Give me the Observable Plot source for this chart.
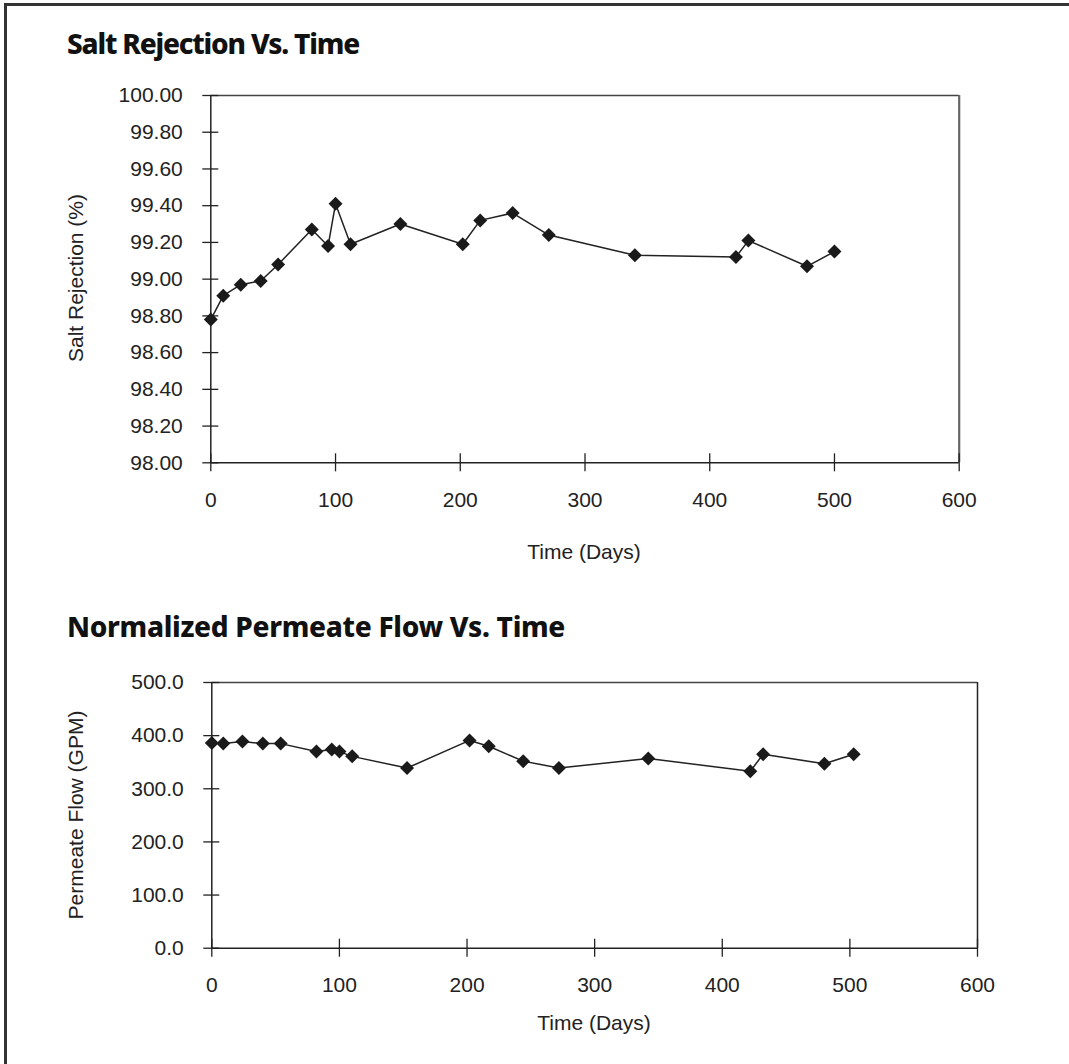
<!DOCTYPE html>
<html>
<head>
<meta charset="utf-8">
<script src="https://cdn.jsdelivr.net/npm/d3@7"></script>
<script src="https://cdn.jsdelivr.net/npm/@observablehq/plot@0.6"></script>
<style>
  html, body { margin: 0; padding: 0; background: #fff; }
  #page { position: relative; width: 1069px; height: 1064px; overflow: hidden; background: #fff; }
  #border { position: absolute; left: 4px; top: 3px; right: -10px; bottom: -10px; border-left: 3px solid #333; border-top: 3px solid #333; }
  .title { position: absolute; left: 67px; font-family: "Noto Sans", sans-serif; font-weight: 800; font-size: 28px; line-height: 1; color: #111; white-space: nowrap; }
  .axlabel { position: absolute; font-family: "Liberation Sans", Arial, sans-serif; font-size: 21px; color: #222; white-space: nowrap; line-height: 1; }
  .ylab { transform: translate(-50%, -50%) rotate(-90deg); }
  .xlab { transform: translate(-50%, -50%); }
  .chart { position: absolute; left: 0; }
</style>
</head>
<body>
<div id="page">
  <div id="border"></div>
  <div class="title" id="t1" style="top:29px; letter-spacing:-1.2px">Salt Rejection Vs. Time</div>
  <div class="title" id="t2" style="top:612px; letter-spacing:-0.3px">Normalized Permeate Flow Vs. Time</div>
  <div class="axlabel ylab" style="left:75px; top:278px">Salt Rejection (%)</div>
  <div class="axlabel xlab" style="left:584px; top:551px">Time (Days)</div>
  <div class="axlabel ylab" style="left:75px; top:815px">Permeate Flow (GPM)</div>
  <div class="axlabel xlab" style="left:594px; top:1022px">Time (Days)</div>
  <div class="chart" id="c1" style="top:60px"></div>
  <div class="chart" id="c2" style="top:640px"></div>
</div>
<script>
// ---- Data ----
const saltDays   = [0, 10, 24, 40, 54, 81, 94, 100, 112, 152, 202, 216, 242, 271, 340, 421, 431, 478, 500];
const saltValues = [98.78, 98.91, 98.97, 98.99, 99.08, 99.27, 99.18, 99.41, 99.19, 99.30, 99.19, 99.32, 99.36, 99.24, 99.13, 99.12, 99.21, 99.07, 99.15];
const saltTicks  = [98.0, 98.2, 98.4, 98.6, 98.8, 99.0, 99.2, 99.4, 99.6, 99.8, 100.0];

const flowDays   = [0, 9, 24, 40, 54, 82, 94, 100, 110, 153, 202, 217, 244, 272, 342, 422, 432, 480, 503];
const flowValues = [386, 385, 389, 385, 385, 370, 374, 370, 361, 339, 391, 380, 352, 339, 357, 333, 365, 347, 365];
const flowTicks  = [0, 100, 200, 300, 400, 500];

const timeTicks  = [0, 100, 200, 300, 400, 500, 600];

const saltData = saltDays.map((d, i) => ({day: d, value: saltValues[i]}));
const flowData = flowDays.map((d, i) => ({day: d, value: flowValues[i]}));

const baseStyle = {fontFamily: "'Liberation Sans', Arial, sans-serif", fontSize: "21px", color: "#222", background: "transparent", overflow: "visible"};

function chart({data, yDomain, yTicks, yFmt, width, height, mt, mb, ml, mr, rightStroke, rightWidth}) {
  return Plot.plot({
    width, height,
    marginTop: mt, marginBottom: mb, marginLeft: ml, marginRight: mr,
    style: baseStyle,
    x: {domain: [0, 600], label: null},
    y: {domain: yDomain, label: null},
    marks: [
      Plot.ruleY([yDomain[1]], {stroke: "#444", strokeWidth: 1.5}),
      Plot.ruleX([600], {stroke: rightStroke, strokeWidth: rightWidth}),
      Plot.ruleX([0], {stroke: "#222", strokeWidth: 1.5}),
      Plot.ruleY([yDomain[0]], {stroke: "#222", strokeWidth: 1.5}),
      Plot.axisY(yTicks, {tickSize: 16, dx: 8, tickPadding: 20, tickFormat: yFmt, label: null, stroke: "#222", strokeWidth: 1.3, fill: "#222"}),
      Plot.axisX(timeTicks, {tickSize: 18, dy: -9, tickPadding: 20, tickFormat: d => String(d), label: null, stroke: "#222", strokeWidth: 1.3, fill: "#222"}),
      Plot.line(data, {x: "day", y: "value", stroke: "#222", strokeWidth: 1.5}),
      Plot.dot(data, {x: "day", y: "value", symbol: "diamond2", r: 6.3, fill: "#1a1a1a", stroke: "none"})
    ]
  });
}

document.getElementById("c1").appendChild(chart({
  data: saltData, yDomain: [98, 100], yTicks: saltTicks, yFmt: d => d.toFixed(2),
  width: 1069, height: 520, mt: 35, mb: 117.7, ml: 210.3, mr: 110.3,
  rightStroke: "#666", rightWidth: 2.2
}));
document.getElementById("c2").appendChild(chart({
  data: flowData, yDomain: [0, 500], yTicks: flowTicks, yFmt: d => d.toFixed(1),
  width: 1069, height: 380, mt: 42, mb: 72.3, ml: 211.3, mr: 92,
  rightStroke: "#222", rightWidth: 1.5
}));
</script>
</body>
</html>
